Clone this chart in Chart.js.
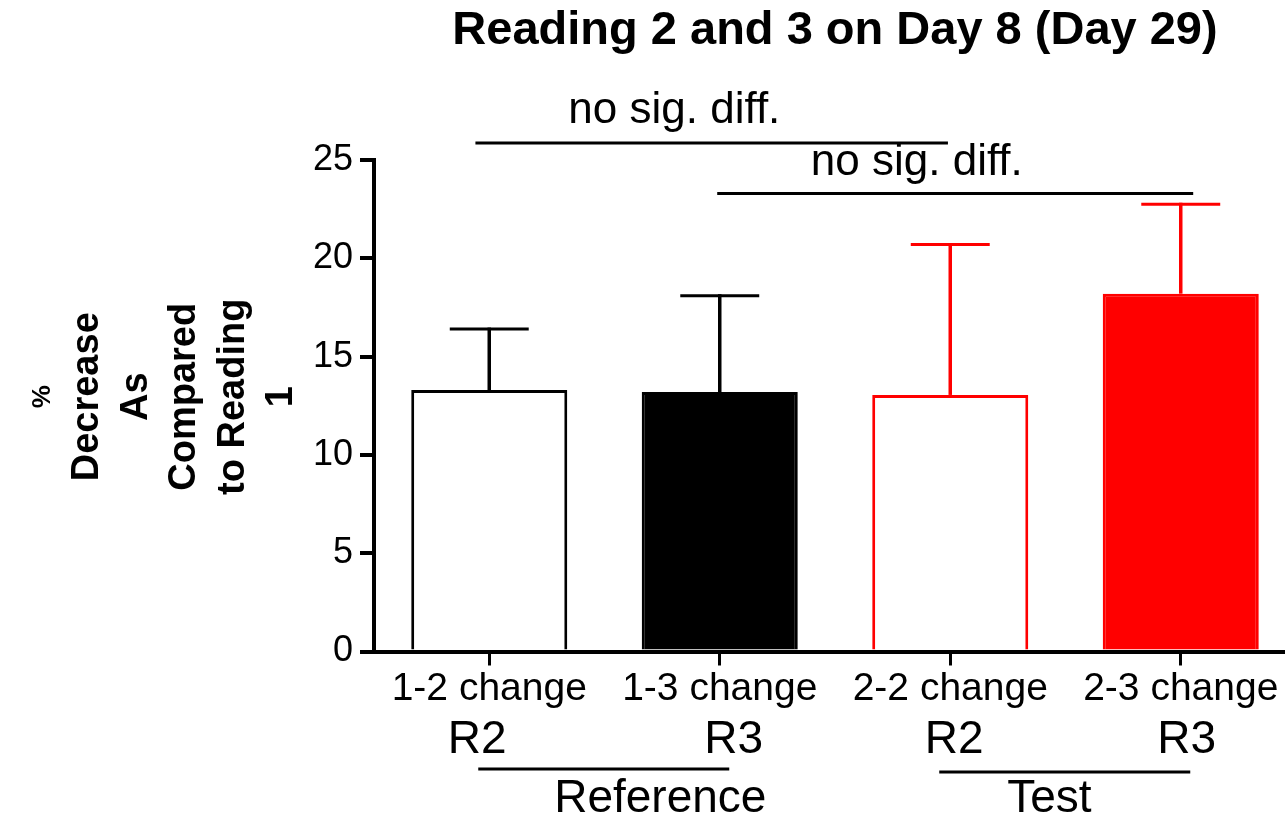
<!DOCTYPE html>
<html>
<head>
<meta charset="utf-8">
<script src="https://cdn.jsdelivr.net/npm/chart.js@4.4.1/dist/chart.umd.min.js"></script>
<style>
html,body{margin:0;padding:0;background:#fff;overflow:hidden;width:1285px;height:814px;}
#wrap{position:absolute;left:0;top:0;width:1296px;height:814px;}
canvas{display:block;}
</style>
</head>
<body>
<div id="wrap"><canvas id="c" width="1296" height="814" style="width:1296px;height:814px"></canvas></div>
<script>
// ---- data ----
const titleText = 'Reading 2 and 3 on Day 8 (Day 29)';
const categories = ['1-2 change', '1-3 change', '2-2 change', '2-3 change'];
const readingLabels = ['R2', 'R3', 'R2', 'R3'];
const meanValues = [13.3, 13.2, 13.05, 18.2];
const upperErrors = [16.4, 18.1, 20.7, 22.75];
const yTicks = [0, 5, 10, 15, 20, 25];
const yTitleLines = ['%', 'Decrease', 'As', 'Compared', 'to Reading', '1'];
const groupNames = ['Reference', 'Test'];
const groupSpans = [[0, 1], [2, 3]];
const comparisonSpans = [[0, 2], [1, 3]];
const comparisonText = ['no sig. diff.', 'no sig. diff.'];

const F = "'Liberation Sans', Arial, Helvetica, sans-serif";
const fillColors = ['#ffffff', '#000000', '#ffffff', '#ff0000'];
const edgeColors = ['#000000', '#000000', '#ff0000', '#ff0000'];

const extras = {
  id: 'extras',
  afterDatasetsDraw(chart, args, o) {
    const ctx = chart.ctx, xs = chart.scales.x, ys = chart.scales.y;
    const area = chart.chartArea;
    const meta = chart.getDatasetMeta(0);
    ctx.save();
    // error bars
    meta.data.forEach((bar, i) => {
      const top = ys.getPixelForValue(meanValues[i]);
      const eTop = ys.getPixelForValue(upperErrors[i]);
      const half = bar.width * o.capRatio / 2;
      ctx.strokeStyle = edgeColors[i];
      ctx.lineCap = 'butt';
      ctx.lineWidth = 3.5;
      ctx.beginPath(); ctx.moveTo(bar.x, top); ctx.lineTo(bar.x, eTop - 1.5); ctx.stroke();
      ctx.lineWidth = 3;
      ctx.beginPath(); ctx.moveTo(bar.x - half, eTop); ctx.lineTo(bar.x + half, eTop); ctx.stroke();
    });
    // comparison lines
    ctx.fillStyle = '#000';
    ctx.strokeStyle = '#000';
    ctx.font = '44px ' + F;
    ctx.textAlign = 'center';
    ctx.textBaseline = 'alphabetic';
    comparisonSpans.forEach((span, k) => {
      const c = o.comparisons[k];
      const x0 = xs.getPixelForValue(span[0] + c.dx0);
      const x1 = xs.getPixelForValue(span[1] + c.dx1);
      const yl = ys.getPixelForValue(c.lineAt);
      ctx.lineWidth = 3;
      ctx.beginPath(); ctx.moveTo(x0, yl); ctx.lineTo(x1, yl); ctx.stroke();
      ctx.fillText(comparisonText[k], xs.getPixelForValue(c.textAt), ys.getPixelForValue(c.textY));
    });
    // second row of category labels
    ctx.font = '46px ' + F;
    readingLabels.forEach((t, i) => {
      ctx.fillText(t, xs.getPixelForValue(i) + o.readingDx[i], area.bottom + o.readingY);
    });
    // group lines and names
    groupSpans.forEach((span, g) => {
      const x0 = xs.getPixelForValue(span[0]) + o.groupLine[0];
      const x1 = xs.getPixelForValue(span[1]) + o.groupLine[1];
      const yl = area.bottom + o.groupLineY[g];
      ctx.lineWidth = 3;
      ctx.beginPath(); ctx.moveTo(x0, yl); ctx.lineTo(x1, yl); ctx.stroke();
      ctx.fillText(groupNames[g], xs.getPixelForValue(o.groupTextAt[g]), area.bottom + o.groupTextY);
    });
    // y-axis title (rotated, multi-line)
    const cy = (area.top + area.bottom) / 2 + o.yTitleDy;
    yTitleLines.forEach((t, i) => {
      ctx.save();
      ctx.translate(area.left + o.yTitleX0 + i * o.yTitleStep, cy);
      ctx.rotate(-Math.PI / 2);
      ctx.font = 'bold ' + (i === 0 ? 26 : 38) + 'px ' + F;
      ctx.textAlign = 'center';
      ctx.fillText(t, 0, 0);
      ctx.restore();
    });
    ctx.restore();
  }
};

new Chart(document.getElementById('c'), {
  type: 'bar',
  data: {
    labels: categories,
    datasets: [{
      data: meanValues,
      backgroundColor: fillColors,
      borderColor: edgeColors,
      borderWidth: 3,
      categoryPercentage: 0.677,
      barPercentage: 1
    }]
  },
  options: {
    responsive: false,
    animation: false,
    devicePixelRatio: 1,
    layout: { padding: 0 },
    plugins: {
      legend: { display: false },
      tooltip: { enabled: false },
      title: {
        display: true,
        text: titleText,
        fullSize: false,
        color: '#000',
        font: { family: F, size: 47, weight: 'bold' },
        padding: { top: 3, bottom: 100.6 }
      },
      extras: {
        capRatio: 0.506,
        comparisons: [
          { dx0: -0.06, dx1: -0.01, lineAt: 25.86, textAt: 0.803, textY: 26.88 },
          { dx0: -0.011, dx1: 0.054, lineAt: 23.3, textAt: 1.855, textY: 24.24 }
        ],
        readingDx: [-12, 14, 4, 6],
        readingY: 101,
        groupLine: [-11, 9.5],
        groupLineY: [117.5, 120.5],
        groupTextAt: [0.742, 2.43],
        groupTextY: 160,
        yTitleX0: -324,
        yTitleStep: 48.4,
        yTitleDy: -9
      }
    },
    scales: {
      x: {
        offset: true,
        grid: { display: true, drawOnChartArea: false, drawTicks: true, tickLength: 14, lineWidth: 3, color: '#000', offset: false },
        border: { display: true, width: 4, color: '#000' },
        ticks: { color: '#000', font: { family: F, size: 39 }, padding: 0, maxRotation: 0, autoSkip: false },
        afterFit(s) { s.height = 162.5; }
      },
      y: {
        min: 0, max: 25,
        afterBuildTicks(s) { s.ticks = yTicks.map(v => ({ value: v })); },
        grid: { display: true, drawOnChartArea: false, drawTicks: true, tickLength: 14, lineWidth: 4, color: '#000' },
        border: { display: true, width: 4, color: '#000' },
        ticks: { color: '#000', font: { family: F, size: 36 }, padding: 7 },
        afterFit(s) { s.width = 374; }
      }
    }
  },
  plugins: [extras]
});
</script>
</body>
</html>
